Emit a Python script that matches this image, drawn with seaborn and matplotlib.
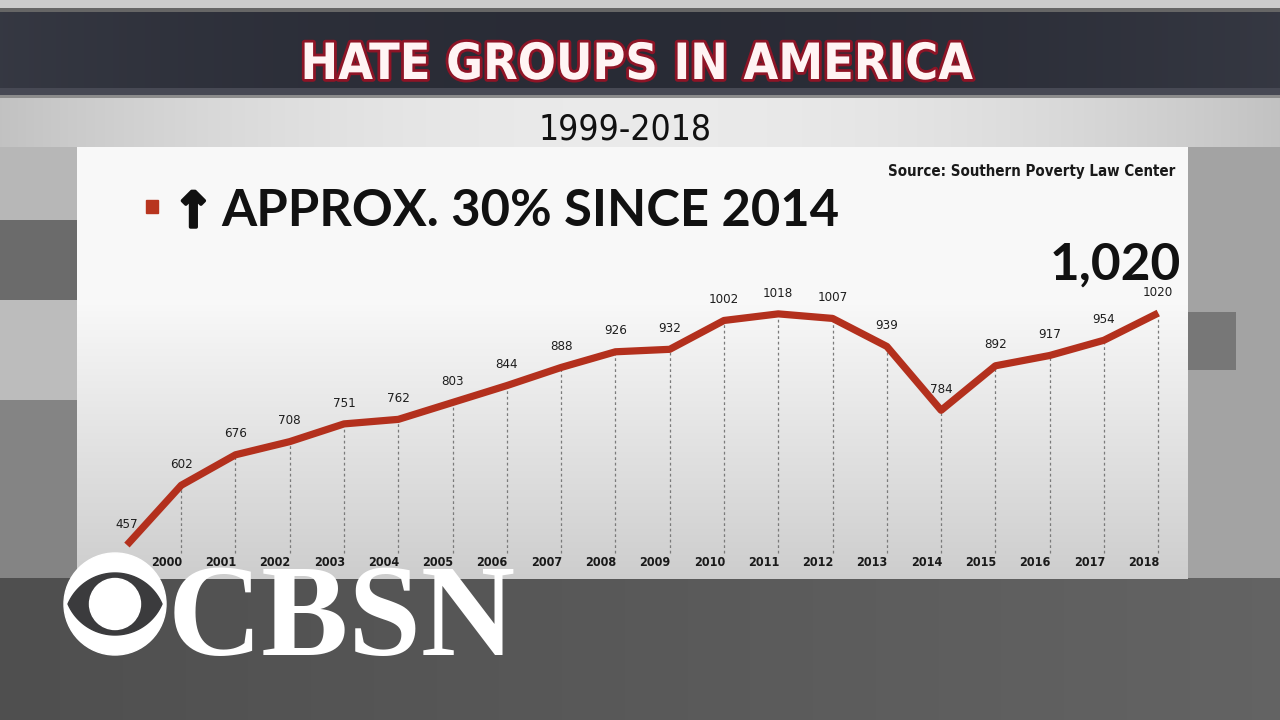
import numpy as np
import pandas as pd
import matplotlib
matplotlib.use("Agg")
import matplotlib.pyplot as plt
import matplotlib.patheffects as pe
from matplotlib.patches import Rectangle, Circle, Polygon
import seaborn as sns

# ---------------- data ----------------
years = [1999, 2000, 2001, 2002, 2003, 2004, 2005, 2006, 2007, 2008,
         2009, 2010, 2011, 2012, 2013, 2014, 2015, 2016, 2017, 2018]
groups = [457, 602, 676, 708, 751, 762, 803, 844, 888, 926,
          932, 1002, 1018, 1007, 939, 784, 892, 917, 954, 1020]
year_labels = [str(y) for y in years[1:]]

title = "HATE GROUPS IN AMERICA"
subtitle = "1999-2018"
legend_text = "APPROX. 30% SINCE 2014"
source_text = "Source: Southern Poverty Law Center"
latest_text = "1,020"

RED = "#b3301d"
COND = dict(family=["DejaVu Sans"], fontstretch="condensed")

sns.set_theme(style="white")
plt.rcParams["font.family"] = ["DejaVu Sans"]

W, H = 1280, 720
fig = plt.figure(figsize=(12.8, 7.2), dpi=100)

# ---------------- background ----------------
yy, xx = np.mgrid[0:H, 0:W].astype(float)
bg = np.full((H, W), 0.56)
left = xx < 77
bg[left & (yy >= 147) & (yy < 220)] = 0.72
bg[left & (yy >= 220) & (yy < 300)] = 0.42
bg[left & (yy >= 300) & (yy < 400)] = 0.74
bg[left & (yy >= 400) & (yy < 578)] = 0.52
right = xx > 1187
bg[right & (yy >= 147) & (yy < 578)] = 0.64
bg[right & (xx < 1236) & (yy >= 312) & (yy < 370)] = 0.47
bot = yy >= 578
bg[bot] = 0.31 + 0.08 * (xx[bot] / W)
bg[yy < 8] = 0.80
band2 = (yy >= 95) & (yy < 147)
edge = np.abs(xx - 640) / 640
bg[band2] = 0.92 - 0.16 * edge[band2] ** 2
bg[(yy >= 95) & (yy < 98)] = 0.55
panel = (xx >= 77) & (xx <= 1187) & (yy >= 147) & (yy <= 578)
t = np.clip((yy - 300) / 278.0, 0, 1)
bg[panel] = 0.975 - 0.17 * t[panel]
rgb = np.dstack([bg, bg, bg])
band = (yy >= 8) & (yy < 95)
dark = np.array([0.16, 0.17, 0.21])
shade = 0.05 * edge ** 2
for c in range(3):
    ch = rgb[:, :, c]
    ch[band] = dark[c] + shade[band]
    ch[(yy >= 8) & (yy < 12)] = 0.40
    ch[(yy >= 88) & (yy < 95)] = dark[c] + 0.12

bgax = fig.add_axes([0, 0, 1, 1], zorder=0)
bgax.imshow(rgb, extent=[0, W, H, 0], aspect="auto", interpolation="bilinear")
bgax.set_xlim(0, W)
bgax.set_ylim(H, 0)
bgax.axis("off")

# ---------------- main chart ----------------
df = pd.DataFrame({"year": years, "groups": groups})
ax = fig.add_axes([77 / W, (H - 578) / H, 1110 / W, 431 / H], zorder=2)
ax.patch.set_alpha(0)
ax.vlines(df["year"][1:], 437, df["groups"][1:], colors="#7a7a7a",
          linestyles=(0, (2.2, 2.2)), linewidth=0.9, zorder=1)
sns.lineplot(data=df, x="year", y="groups", ax=ax, color=RED, linewidth=5.2,
             solid_joinstyle="round", solid_capstyle="butt", zorder=3)
for yr, v in zip(years, groups):
    ax.annotate(str(v), (yr, v), xytext=(0, 15), textcoords="offset points",
                ha="center", va="center", fontsize=9.5, color="#1e1e1e",
                **COND)
for yr, lab in zip(years[1:], year_labels):
    ax.text(yr - 0.27, 0.037, lab, transform=ax.get_xaxis_transform(),
            ha="center", va="center", fontsize=9, fontweight="bold",
            color="#1a1a1a", **COND)
ax.set_xlim(1998.08, 2018.53)
ax.set_ylim(377, 1423)
ax.axis("off")

# ---------------- overlay (titles, legend, logo) ----------------
ov = fig.add_axes([0, 0, 1, 1], zorder=5)
ov.set_xlim(0, W)
ov.set_ylim(H, 0)
ov.axis("off")
ov.patch.set_alpha(0)

ov.text(637, 79, title, ha="center", va="baseline", fontsize=36,
        fontweight="bold", color="#fff4f4",
        path_effects=[pe.withStroke(linewidth=4, foreground="#8e1426")], **COND)
ov.text(625, 139, subtitle, ha="center", va="baseline", fontsize=25.5,
        color="#111111", **COND)

ov.add_patch(Rectangle((146, 200), 12, 13, color="#b8351f", zorder=3))
ov.text(173, 227, "\u2191", ha="left", va="baseline", fontsize=35,
        fontweight="bold", color="#111111", family=["DejaVu Sans"],
        path_effects=[pe.withStroke(linewidth=2.5, foreground="#111111")])
ov.text(221, 226, legend_text, ha="left", va="baseline", fontsize=36.5,
        fontweight="bold", color="#111111", family=["Lato", "DejaVu Sans"])
ov.text(1175, 176, source_text, ha="right", va="baseline", fontsize=10.8,
        fontweight="bold", color="#1a1a1a", **COND)
ov.text(1181, 280, latest_text, ha="right", va="baseline", fontsize=37,
        fontweight="bold", color="#111111", family=["Lato", "DejaVu Sans"])

# CBS eye logo
cx, cy = 115, 604
ov.add_patch(Circle((cx, cy), 51, color="white", zorder=6))
a, b = 47.0, 31.0
d = (a * a - b * b) / (2 * b)
R = b + d
th_max = np.arcsin(a / R)
th = np.linspace(-th_max, th_max, 80)
upper = np.column_stack([cx + R * np.sin(th), cy + d - R * np.cos(th)])
lower = np.column_stack([cx - R * np.sin(th), cy - d + R * np.cos(th)])
ov.add_patch(Polygon(np.vstack([upper, lower]), closed=True,
                     color="#3b3b3d", zorder=7))
ov.add_patch(Circle((cx, cy), 25.5, color="white", zorder=8))
ov.text(168, 655, "CBSN", ha="left", va="baseline", fontsize=94,
        fontweight="bold", color="white", family=["Liberation Serif", "DejaVu Serif"],
        zorder=9)

fig.savefig("out.png", dpi=100)
